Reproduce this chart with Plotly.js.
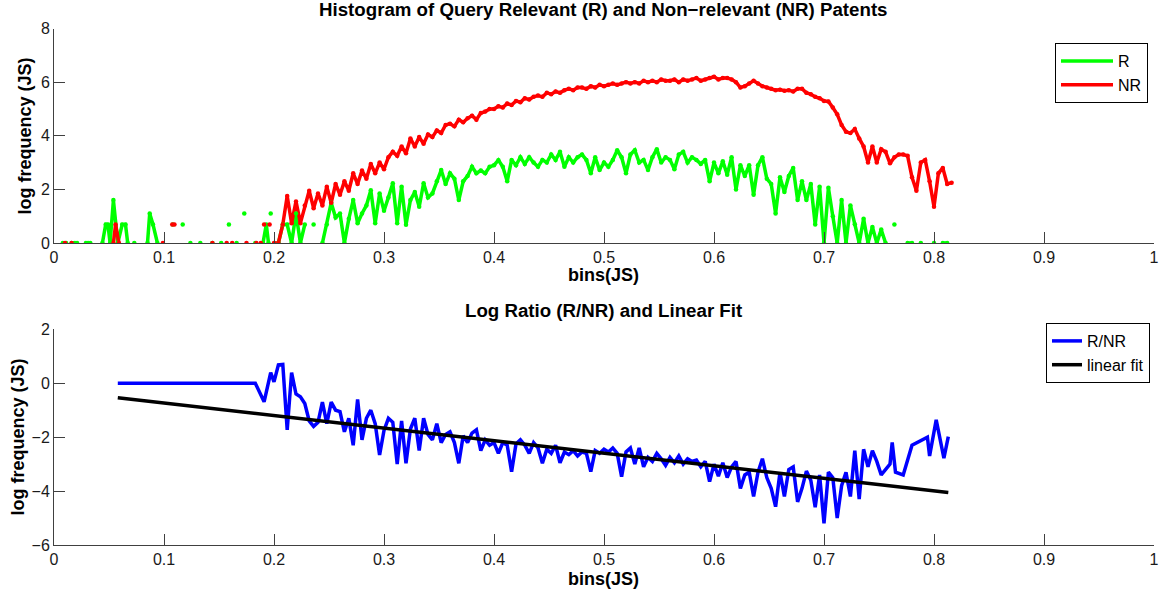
<!DOCTYPE html>
<html><head><meta charset="utf-8">
<script src="https://cdn.plot.ly/plotly-3.0.1.min.js"></script>
<style>html,body{margin:0;padding:0;background:#fff}#chart{width:1170px;height:592px}</style>
</head><body><div id="chart"></div>
<script>
// ---------- data ----------
// common histogram bins from 0.2 onwards
const gridBins = [
 0.200,0.204,0.208,0.212,0.216,0.220,0.224,0.228,0.232,0.236,
 0.240,0.244,0.248,0.252,0.256,0.260,0.264,0.268,0.272,0.276,
 0.280,0.284,0.288,0.292,0.296,0.300,0.304,0.308,0.312,0.316,
 0.320,0.324,0.328,0.332,0.336,0.340,0.344,0.348,0.352,0.356,
 0.360,0.364,0.368,0.372,0.376,0.380,0.384,0.388,0.392,0.396,
 0.400,0.404,0.408,0.412,0.416,0.420,0.424,0.428,0.432,0.436,
 0.440,0.444,0.448,0.452,0.456,0.460,0.464,0.468,0.472,0.476,
 0.480,0.484,0.488,0.492,0.496,0.500,0.504,0.508,0.512,0.516,
 0.520,0.524,0.528,0.532,0.536,0.540,0.544,0.548,0.552,0.556,
 0.560,0.564,0.568,0.572,0.576,0.580,0.584,0.588,0.592,0.596,
 0.600,0.604,0.608,0.612,0.616,0.620,0.624,0.628,0.632,0.636,
 0.640,0.644,0.648,0.652,0.656,0.660,0.664,0.668,0.672,0.676,
 0.680,0.684,0.688,0.692,0.696,0.700,0.704,0.708,0.712,0.716,
 0.720,0.724,0.728,0.732,0.736,0.740,0.744,0.748,0.752,0.756,
 0.760,0.764,0.768,0.772,0.776,0.780,0.784,0.788,0.792,0.796,
 0.800,0.804,0.808,0.812,0.816];

// Relevant (R): sparse early bins, then grid
const rEarlyBins = [0.008,0.011,0.013,0.016,0.019,0.021,0.024,0.029,0.031,0.033,
 0.038,0.044,0.047,0.049,0.051,0.054,0.058,0.062,0.065,0.067,
 0.070,0.073,0.076,0.085,0.087,0.090,0.094,0.100,0.108,0.112,
 0.117,0.120,0.124,0.128,0.133,0.136,0.144,0.148,0.152,0.156,
 0.159,0.161,0.166,0.169,0.173,0.176,0.183,0.186,0.190,0.193,
 0.195,0.196,0.197,0.198];
const rEarlyLog = [0,0,null,0,0,0,null,0,0,0,
 null,0,0.69,0.69,0,1.6,0,0.69,0.69,0,
 null,0,null,0,1.1,0.69,0,null,0.69,null,
 0.69,null,0,null,0,null,0,null,0,null,
 0.69,null,0,null,1.1,null,0,null,0,0.69,
 0,null,1.1,null];
const rLog = [
 null,0,0.69,0.69,0,1.1,0,0.69,null,0.69,
 null,0,0.69,1.5,0.95,1.1,0,0.9,1.6,0.74,
 1.1,1.4,1.97,0.74,1.85,1.2,1.7,2.23,0.74,2.1,
 0.68,1.6,1.9,1.35,2.23,1.7,1.85,2.3,2.72,2.2,
 2.6,2.4,1.6,2.3,2.5,2.84,2.6,2.7,2.6,2.84,
 2.9,3.09,2.84,2.3,3.1,2.9,3.2,2.95,3.2,3.0,
 2.84,3.1,3.0,3.3,3.1,3.4,2.84,3.2,3.0,3.2,
 3.3,3.1,2.6,3.2,2.72,3.0,2.84,3.1,3.46,3.2,
 2.6,3.3,3.46,3.0,3.1,2.72,3.2,3.5,3.0,3.2,
 3.1,2.75,3.3,3.4,3.0,3.2,3.1,2.95,3.1,2.3,
 3.0,2.6,3.05,2.55,3.2,2.0,2.9,2.5,2.9,1.8,
 2.9,3.2,2.4,2.2,1.1,2.45,1.9,2.5,2.8,1.6,
 2.3,1.6,2.2,0.69,2.1,0,2.06,1.0,0,1.6,
 0,1.4,0.7,0,0.9,0,0.6,0,0.5,0,
 null,0.69,null,null,0,0,null,0,null,null,
 0,null,0,0,null];

// Non-relevant (NR)
const nrEarlyBins = [0.010,0.012,0.016,0.018,0.054,0.056,0.059,0.061,0.099,0.101,
 0.1075,0.1085,0.1095,0.112,0.144,0.146,0.157,0.159,0.162,0.164,
 0.175,0.177,0.184,0.186,0.188,0.190,0.191,0.193,0.196,0.198];
const nrEarlyLog = [0,null,0,null,0,0.69,0,null,0,null,
 0.69,null,0.69,null,0,null,0,null,0,null,
 0,null,0,null,0,null,0.69,null,0.69,null];
const nrLog = [
 0,0,0.69,1.75,0.74,1.55,0.74,1.4,1.95,1.3,
 1.85,1.4,2.1,1.5,2.2,1.8,2.3,1.95,2.6,2.2,
 2.7,2.4,2.95,2.6,3.0,2.75,3.2,3.4,3.25,3.6,
 3.35,3.9,3.6,3.95,3.7,4.05,3.95,4.2,4.1,4.4,
 4.45,4.35,4.6,4.5,4.65,4.75,4.6,4.85,4.9,5.0,
 5.0,5.1,5.05,5.2,5.15,5.3,5.25,5.4,5.35,5.45,
 5.5,5.45,5.6,5.55,5.65,5.6,5.7,5.75,5.7,5.8,
 5.8,5.75,5.85,5.8,5.9,5.85,5.9,5.95,5.9,5.95,
 6.0,5.95,6.0,5.95,6.05,6.0,6.05,6.0,6.1,6.05,
 6.05,6.1,6.0,6.1,6.05,6.1,6.15,6.05,6.1,6.15,
 6.2,6.1,6.15,6.15,6.1,6.0,5.8,5.85,5.95,6.05,
 5.95,5.85,5.8,5.75,5.7,5.72,5.68,5.7,5.65,5.75,
 5.75,5.6,5.55,5.45,5.4,5.3,5.28,5.05,4.8,4.4,
 4.15,4.1,4.25,3.9,3.6,3.0,3.6,3.0,3.5,3.4,
 2.97,3.2,3.3,3.3,3.25,2.45,1.95,3.0,3.1,2.3,
 1.35,2.6,2.8,2.2,2.25];

// Log ratio R/NR
const ratioBins = [0.058,0.183,0.191,0.197,
 0.200,0.204,0.208,0.212,0.216,0.220,0.224,0.228,0.232,0.236,
 0.240,0.244,0.248,0.252,0.256,0.260,0.264,0.268,0.272,0.276,
 0.280,0.284,0.288,0.292,0.296,0.300,0.304,0.308,0.312,0.316,
 0.320,0.324,0.328,0.332,0.336,0.340,0.344,0.348,0.352,0.356,
 0.360,0.364,0.368,0.372,0.376,0.380,0.384,0.388,0.392,0.396,
 0.400,0.404,0.408,0.412,0.416,0.420,0.424,0.428,0.432,0.436,
 0.440,0.444,0.448,0.452,0.456,0.460,0.464,0.468,0.472,0.476,
 0.480,0.484,0.488,0.492,0.496,0.500,0.504,0.508,0.512,0.516,
 0.520,0.524,0.528,0.532,0.536,0.540,0.544,0.548,0.552,0.556,
 0.560,0.564,0.568,0.572,0.576,0.580,0.584,0.588,0.592,0.596,
 0.600,0.604,0.608,0.612,0.616,0.620,0.624,0.628,0.632,0.636,
 0.640,0.644,0.648,0.652,0.656,0.660,0.664,0.668,0.672,0.676,
 0.680,0.684,0.688,0.692,0.696,0.700,0.704,0.708,0.712,0.716,
 0.720,0.724,0.728,0.732,0.736,0.740,0.744,0.748,0.752,0.756,
 0.760,0.762,0.765,0.772,0.780,0.794,0.796,0.802,0.809,0.813];
const ratioLog = [0,0,-0.69,0.39,
 0.05,0.68,0.7,-1.73,0.39,-0.4,-0.5,-0.75,-1.4,-1.6,
 -1.45,-0.7,-1.5,-0.7,-1.0,-1.05,-1.8,-1.3,-2.3,-0.6,
 -2.1,-1.3,-1.0,-1.5,-2.66,-1.75,-1.3,-1.45,-3.0,-1.4,
 -2.97,-1.7,-1.3,-2.5,-1.3,-1.9,-2.1,-1.5,-2.2,-1.9,
 -1.8,-2.2,-2.97,-1.95,-2.2,-1.85,-1.73,-2.5,-2.1,-2.3,
 -2.2,-2.6,-2.2,-2.3,-3.28,-2.25,-2.1,-2.3,-2.6,-2.2,
 -2.4,-2.97,-2.45,-2.6,-2.3,-2.95,-2.55,-2.65,-2.5,-2.7,
 -2.55,-2.6,-3.28,-2.5,-2.6,-2.45,-2.55,-2.4,-2.6,-3.47,
 -2.55,-2.4,-3.0,-2.4,-3.1,-2.75,-2.9,-2.6,-2.8,-3.05,
 -2.75,-2.95,-2.7,-3.0,-2.8,-2.9,-2.85,-3.1,-2.9,-3.65,
 -3.0,-3.45,-2.95,-3.5,-3.1,-2.9,-3.9,-3.4,-3.3,-4.2,
 -3.3,-2.8,-3.5,-3.9,-4.58,-3.3,-4.2,-3.2,-3.1,-4.4,
 -3.9,-3.26,-3.6,-4.6,-3.4,-5.2,-3.3,-3.5,-5.0,-3.8,
 -3.3,-4.2,-2.5,-4.3,-2.45,-3.1,-2.5,-2.9,-3.4,-3.2,
 -3.0,-2.2,-3.3,-3.4,-2.3,-2.0,-2.7,-1.36,-2.78,-1.98];

// linear fit endpoints
const fitBins = [0.058, 0.813];
const fitLog = [-0.54, -4.05];

// labels
const topTitle = 'Histogram of Query Relevant (R) and Non\u2212relevant (NR) Patents';
const bottomTitle = 'Log Ratio (R/NR) and Linear Fit';
const xLabel = 'bins(JS)';
const yLabel = 'log frequency (JS)';
const names = ['R', 'NR', 'R/NR', 'linear fit'];

// ---------- layout helpers ----------
const W = 1170, H = 592, ML = 54, MR = 16;
const FONT = 'Liberation Sans, Arial, Helvetica, sans-serif';
const px2x = p => (p - ML) / (W - ML - MR);
const py2y = p => (H - p) / H;

const axisStyle = {
  showline: true, linecolor: '#404040', linewidth: 1,
  ticks: 'inside', ticklen: 11, tickcolor: '#404040', tickwidth: 1,
  showgrid: false, zeroline: false,
  tickfont: {family: FONT, size: 16, color: '#1a1a1a'},
  fixedrange: true
};

const rX = rEarlyBins.concat(gridBins), rY = rEarlyLog.concat(rLog);
const nrX = nrEarlyBins.concat(gridBins), nrY = nrEarlyLog.concat(nrLog);

const traces = [
  {x: rX, y: rY, name: names[0], type: 'scatter', mode: 'lines', xaxis: 'x', yaxis: 'y',
   legend: 'legend', legendgroup: 'r', line: {color: '#00ff00', width: 3.5}},
  {x: nrX, y: nrY, name: names[1], type: 'scatter', mode: 'lines', xaxis: 'x', yaxis: 'y',
   legend: 'legend', legendgroup: 'nr', line: {color: '#ff0000', width: 3.5}},
  // single-count bins show as dots (isolated points)
  {x: rX, y: rY, name: names[0], type: 'scatter', mode: 'markers', xaxis: 'x', yaxis: 'y',
   showlegend: false, legendgroup: 'r', marker: {color: '#00ff00', size: 4.5}},
  {x: nrX, y: nrY, name: names[1], type: 'scatter', mode: 'markers', xaxis: 'x', yaxis: 'y',
   showlegend: false, legendgroup: 'nr', marker: {color: '#ff0000', size: 4.5}},
  {x: ratioBins, y: ratioLog, name: names[2], type: 'scatter', mode: 'lines',
   xaxis: 'x2', yaxis: 'y2', legend: 'legend2', line: {color: '#0000ff', width: 3.5}},
  {x: fitBins, y: fitLog, name: names[3], type: 'scatter', mode: 'lines',
   xaxis: 'x2', yaxis: 'y2', legend: 'legend2', line: {color: '#000000', width: 3.5}}
];

const legendStyle = {
  xref: 'paper', yref: 'paper', xanchor: 'right', yanchor: 'top',
  bgcolor: '#ffffff', bordercolor: '#000000', borderwidth: 1,
  font: {family: FONT, size: 16, color: '#000'}, tracegroupgap: 0
};

const ann = (text, xp, yp, size, angle) => ({
  text: '<b>' + text + '</b>', xref: 'paper', yref: 'paper', x: px2x(xp), y: py2y(yp),
  xanchor: 'center', yanchor: 'middle', showarrow: false, textangle: angle || 0,
  borderpad: 0, font: {family: FONT, size: size, color: '#000'}
});

const layout = {
  width: W, height: H, paper_bgcolor: '#fff', plot_bgcolor: '#fff',
  margin: {l: ML, r: MR, t: 0, b: 0, pad: 0},
  showlegend: true,
  xaxis: Object.assign({}, axisStyle, {domain: [0, 1], range: [0, 1], tick0: 0, dtick: 0.1, anchor: 'y'}),
  yaxis: Object.assign({}, axisStyle, {domain: [py2y(243), py2y(28.5)], range: [0, 8], tick0: 0, dtick: 2, anchor: 'x'}),
  xaxis2: Object.assign({}, axisStyle, {domain: [0, 1], range: [0, 1], tick0: 0, dtick: 0.1, anchor: 'y2'}),
  yaxis2: Object.assign({}, axisStyle, {domain: [py2y(545), py2y(329.3)], range: [-6, 2], tick0: -6, dtick: 2, anchor: 'x2'}),
  legend: Object.assign({}, legendStyle, {x: px2x(1148), y: py2y(43), itemwidth: 52}),
  legend2: Object.assign({}, legendStyle, {x: px2x(1150), y: py2y(323), itemwidth: 30}),
  annotations: [
    ann(topTitle, 603.5, 10, 18.7),
    ann(bottomTitle, 603.5, 310, 18.7),
    ann(xLabel, 603.5, 274.5, 18),
    ann(xLabel, 603.5, 579, 18),
    ann(yLabel, 24.5, 136, 18, -90),
    ann(yLabel, 17.5, 437, 18, -90)
  ]
};

Plotly.newPlot('chart', traces, layout, {displayModeBar: false, staticPlot: true});
</script>
</body></html>
